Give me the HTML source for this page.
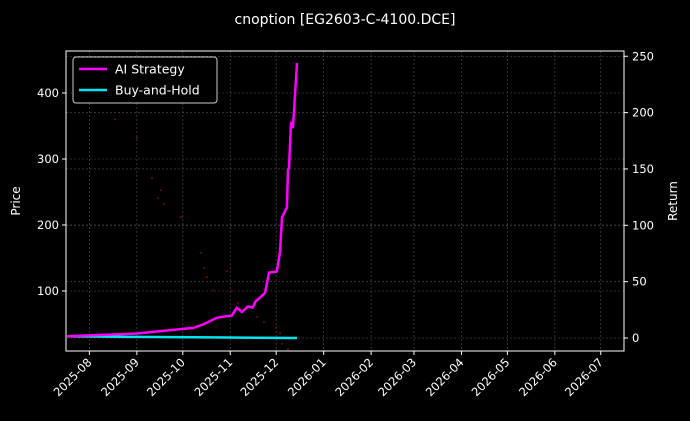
<!DOCTYPE html>
<html><head><meta charset="utf-8"><style>
html,body{margin:0;padding:0;background:#000;}
svg{display:block;font-family:"DejaVu Sans","Liberation Sans",sans-serif;}
</style></head><body>
<svg id="chart" width="690" height="421" viewBox="0 0 690 421">
<rect width="690" height="421" fill="#000"/>
<text x="345" y="24" fill="#fff" font-size="14" text-anchor="middle">cnoption [EG2603-C-4100.DCE]</text>
<g id="grid"></g>
<g id="marks"></g>
<rect x="66" y="51" width="558" height="300" fill="none" stroke="#fff" stroke-width="1"/>
<g id="axes"></g>
<text transform="translate(20,201) rotate(-90)" fill="#fff" font-size="12" text-anchor="middle">Price</text>
<text transform="translate(677,201) rotate(-90)" fill="#fff" font-size="12" text-anchor="middle">Return</text>
<g>
<rect x="73" y="57" width="144" height="46" rx="3" fill="#000" stroke="#ccc" stroke-width="1"/>
<line x1="79" y1="69" x2="107" y2="69" stroke="#ff00ff" stroke-width="2.5"/>
<text x="115" y="73.5" fill="#fff" font-size="12.5">AI Strategy</text>
<line x1="79" y1="90" x2="107" y2="90" stroke="#00e5ee" stroke-width="2.5"/>
<text x="115" y="94.5" fill="#fff" font-size="12.5">Buy-and-Hold</text>
</g>
</svg>
<script>
// days offset from 2025-08-01
const monthLabels = ["2025-08","2025-09","2025-10","2025-11","2025-12","2026-01","2026-02","2026-03","2026-04","2026-05","2026-06","2026-07"];
const monthDays = [0,31,61,92,122,153,184,212,243,273,304,334];
const priceTicks = [100,200,300,400];
const returnTicks = [0,50,100,150,200,250];
const strategyDays = [-14.6,31,67.7,74.2,83.3,93.1,96.3,99.6,103.5,106.8,108.2,114.7,117.3,122.5,124.5,125.8,129,129.7,130.4,131.7,133,135.6];
const strategyReturns = [1.5,4,9,12,18,20,27,23,28,27,32,40,58,59,76,107,116,149,151,191,187,244];
const buyHoldDays = [-14.6,30,80,135.6];
const buyHoldReturns = [1.5,1,0.5,0];
const priceDays = [16.7,31.1,40.9,46.8,44.7,48.7,59.8,72.9,74.9,76.8,89.9,80.8,93.1,97.1,109.5,114,121.9,124.5,125.8,129.7];
const priceValues = [360,332,271,253,241,232,212,158,135,121,130,101,100,82,61,53,45,36,20,12];

const NS = "http://www.w3.org/2000/svg";
const X0 = 66, X1 = 624, Y0 = 51, Y1 = 351;
const dayToX = d => 89.4 + d * 1.531;
const priceY = p => 291 - (p - 100) * 0.66;
const retY = r => 338 - r * 1.127;

function mk(tag, attrs, parent) {
  const e = document.createElementNS(NS, tag);
  for (const k in attrs) e.setAttribute(k, attrs[k]);
  parent.appendChild(e);
  return e;
}
const grid = document.getElementById('grid');
const axes = document.getElementById('axes');
const marks = document.getElementById('marks');

monthDays.forEach((d, i) => {
  const x = dayToX(d);
  const g = mk('line', {x1:x, x2:x, y1:Y0, y2:Y1, stroke:'#555', 'stroke-width':0.6, 'stroke-dasharray':'2,2'}, grid);
  
  
  const t = mk('line', {x1:x, x2:x, y1:Y1, y2:Y1+4, stroke:'#fff'}, axes);
  
  
  const lbl = mk('text', {x:x+3, y:Y1+12, fill:'#fff', 'font-size':11.5, 'text-anchor':'end', transform:`rotate(-45 ${x+3} ${Y1+12})`}, axes);
  lbl.textContent = monthLabels[i];
  
  
});
priceTicks.forEach(p => {
  const y = priceY(p);
  const g = mk('line', {x1:X0, x2:X1, y1:y, y2:y, stroke:'#555', 'stroke-width':0.6, 'stroke-dasharray':'2,2'}, grid);
  
  
  const t = mk('line', {x1:X0-4, x2:X0, y1:y, y2:y, stroke:'#fff'}, axes);
  
  
  const lbl = mk('text', {x:X0-7, y:y+4, fill:'#fff', 'font-size':11.5, 'text-anchor':'end'}, axes);
  lbl.textContent = p;
  
  
});
returnTicks.forEach(r => {
  const y = retY(r);
  const g = mk('line', {x1:X0, x2:X1, y1:y, y2:y, stroke:'#555', 'stroke-width':0.6, 'stroke-dasharray':'2,2'}, grid);
  
  
  const t = mk('line', {x1:X1, x2:X1+4, y1:y, y2:y, stroke:'#fff'}, axes);
  
  
  const lbl = mk('text', {x:X1+8, y:y+4, fill:'#fff', 'font-size':11.5, 'text-anchor':'start'}, axes);
  lbl.textContent = r;
  
  
});
priceDays.forEach((d, i) => {
  const c = mk('circle', {cx:dayToX(d), cy:priceY(priceValues[i]), r:1, fill:'#8b0000'}, marks);
  
  
});
function poly(days, vals, color, name) {
  const pts = days.map((d, i) => `${dayToX(d).toFixed(1)},${retY(vals[i]).toFixed(1)}`).join(' ');
  const p = mk('polyline', {points:pts, fill:'none', stroke:color, 'stroke-width':2.5, 'stroke-linejoin':'round'}, marks);
  
  
}
poly(buyHoldDays, buyHoldReturns, '#00e5ee', 'buy-and-hold-line');
poly(strategyDays, strategyReturns, '#ff00ff', 'ai-strategy-line');
</script>
</body></html>
